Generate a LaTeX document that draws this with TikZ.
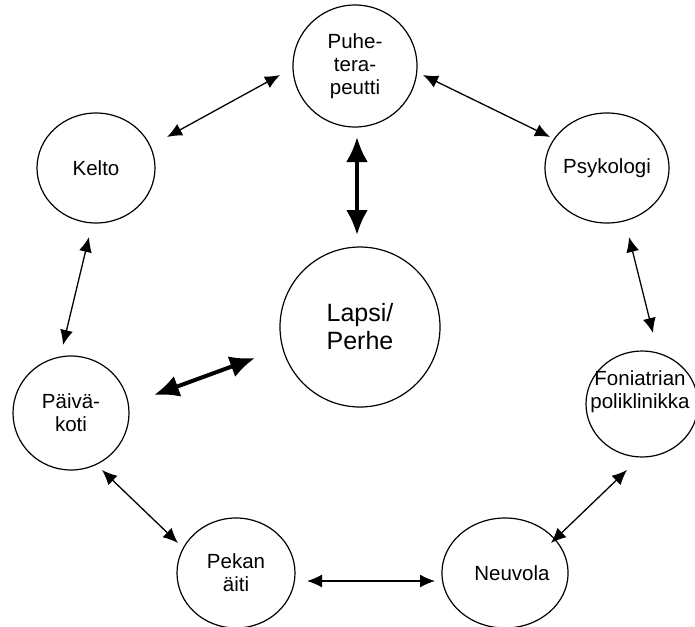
\documentclass[tikz,border=0pt]{standalone}
\usepackage{fontspec}
\setmainfont{Liberation Sans}
\usetikzlibrary{shapes.geometric,arrows.meta}
\begin{document}
\begin{tikzpicture}[x=1pt,y=-1pt,
  actor/.style={draw,ellipse,line width=1.2pt,inner sep=0pt,align=center,font=\fontsize{20.5}{23}\selectfont},
  label/.style={align=center,inner sep=0pt,font=\fontsize{20.5}{23}\selectfont},
  link/.style={line width=1.3pt,{Latex[length=15pt,width=13pt]}-{Latex[length=15pt,width=13pt]}},
  mainlink/.style={line width=4pt,{Latex[length=25pt,width=22pt]}-{Latex[length=25pt,width=22pt]}}]
\useasboundingbox (0,0) rectangle (695,626);
% circles
\node[actor,minimum width=124pt,minimum height=122pt](puhe)at(355,66){Puhe-\\tera-\\peutti};
\node[actor,minimum width=118pt,minimum height=110pt](kelto)at(96,168){Kelto};
\node[actor,minimum width=118pt,minimum height=110pt](psyk)at(607,168){Psykologi};
\node[actor,minimum width=160pt,minimum height=160pt,font=\fontsize{25}{28}\selectfont](lapsi)at(360,327){Lapsi/\\Perhe};
\node[actor,minimum width=116pt,minimum height=114pt](paiva)at(71,413){Päivä-\\koti};
\node[actor,minimum width=112pt,minimum height=106pt](foni)at(642,404){};
\node[label](foni-txt)at(640,392){Foniatrian\\poliklinikka};
\node[actor,minimum width=118pt,minimum height=110pt](pekan)at(236,573){Pekan\\äiti};
\node[actor,minimum width=118pt,minimum height=110pt](neuvola)at(505,573){\hspace*{14pt}Neuvola};
% arrow ends
\coordinate(pk-a)at(280,75);  \coordinate(pk-b)at(167,137);
\coordinate(pp-a)at(423,75);  \coordinate(pp-b)at(550,137);
\coordinate(pl-a)at(357,137); \coordinate(pl-b)at(357,235);
\coordinate(kp-a)at(89,237);  \coordinate(kp-b)at(63,345);
\coordinate(pf-a)at(629,237); \coordinate(pf-b)at(653,333);
\coordinate(dl-a)at(154,395); \coordinate(dl-b)at(255,358);
\coordinate(de-a)at(102,470); \coordinate(de-b)at(178,543);
\coordinate(fn-a)at(627,470); \coordinate(fn-b)at(551,543);
\coordinate(en-a)at(307,581); \coordinate(en-b)at(435,581);
% arrows
\draw[link](pk-a)--(pk-b);
\draw[link](pp-a)--(pp-b);
\draw[mainlink](pl-a)--(pl-b);
\draw[link](kp-a)--(kp-b);
\draw[link](pf-a)--(pf-b);
\draw[mainlink](dl-a)--(dl-b);
\draw[link](de-a)--(de-b);
\draw[link](fn-a)--(fn-b);
\draw[link](en-a)--(en-b);
\end{tikzpicture}
\end{document}
